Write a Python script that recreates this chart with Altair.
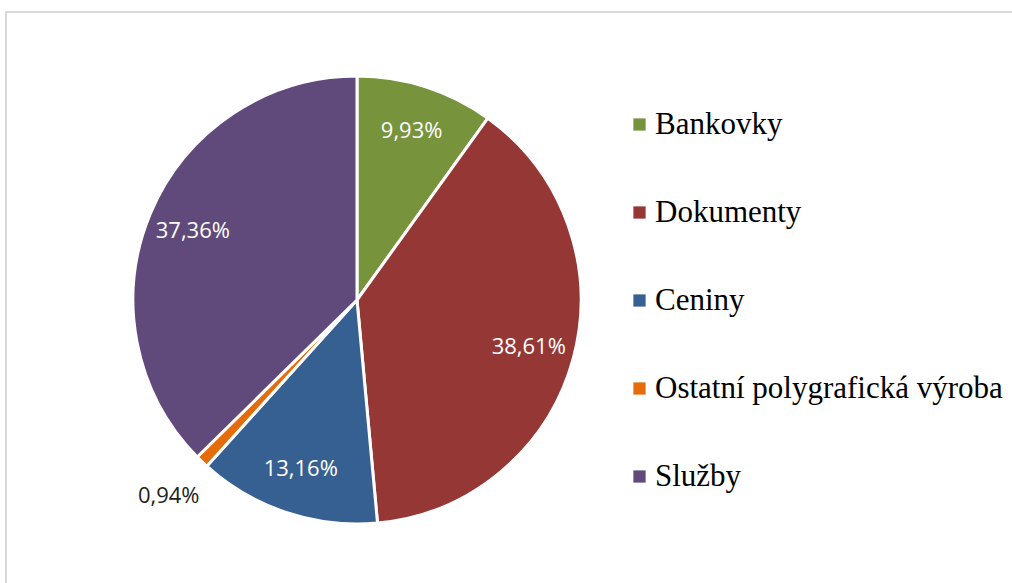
import altair as alt
import pandas as pd

categories = ["Bankovky", "Dokumenty", "Ceniny", "Ostatní polygrafická výroba", "Služby"]
values = [9.93, 38.61, 13.16, 0.94, 37.36]
colors = ["#77933C", "#953735", "#376092", "#E46C0A", "#604A7B"]
outside_label = "Ostatní polygrafická výroba"

labels = [f"{v:.2f}%".replace(".", ",") for v in values]
df = pd.DataFrame({"cat": categories, "value": values, "label": labels, "idx": list(range(len(values)))})

cx, cy = 357, 300

base = alt.Chart(df).encode(
    theta=alt.Theta("value:Q", stack=True),
    order=alt.Order("idx:Q"),
    x=alt.value(cx),
    y=alt.value(cy),
)

pie = base.mark_arc(outerRadius=224, stroke="white", strokeWidth=3).encode(
    color=alt.Color(
        "cat:N",
        scale=alt.Scale(domain=categories, range=colors),
        legend=alt.Legend(
            orient="none", legendX=624, legendY=109, title=None,
            symbolType="square", symbolSize=150, symbolStrokeWidth=0,
            labelFont="Liberation Serif", labelFontSize=31, labelColor="black",
            labelLimit=0, rowPadding=56, labelOffset=0,
        ),
    )
)

inside = base.transform_calculate(
    lab=f"datum.cat == '{outside_label}' ? '' : datum.label"
).mark_text(radius=178, fontSize=22, font="Open Sans", color="white").encode(text="lab:N")

outside = base.transform_calculate(
    lab=f"datum.cat == '{outside_label}' ? datum.label : ''"
).mark_text(radius=272, fontSize=22, font="Open Sans", color="#222222").encode(text="lab:N")

frame = alt.Chart(pd.DataFrame({"a": [0]})).mark_rect(
    filled=False, stroke="#d9d9d9", strokeWidth=2
).encode(x=alt.value(6), x2=alt.value(1040), y=alt.value(12), y2=alt.value(620))

chart = alt.layer(frame, pie, inside, outside).properties(
    width=1012, height=583, padding=0, autosize=alt.AutoSizeParams(type="none"),
    background="white",
).configure_view(stroke=None)

chart.save("out.html", embed_options={"renderer": "svg", "actions": False})
